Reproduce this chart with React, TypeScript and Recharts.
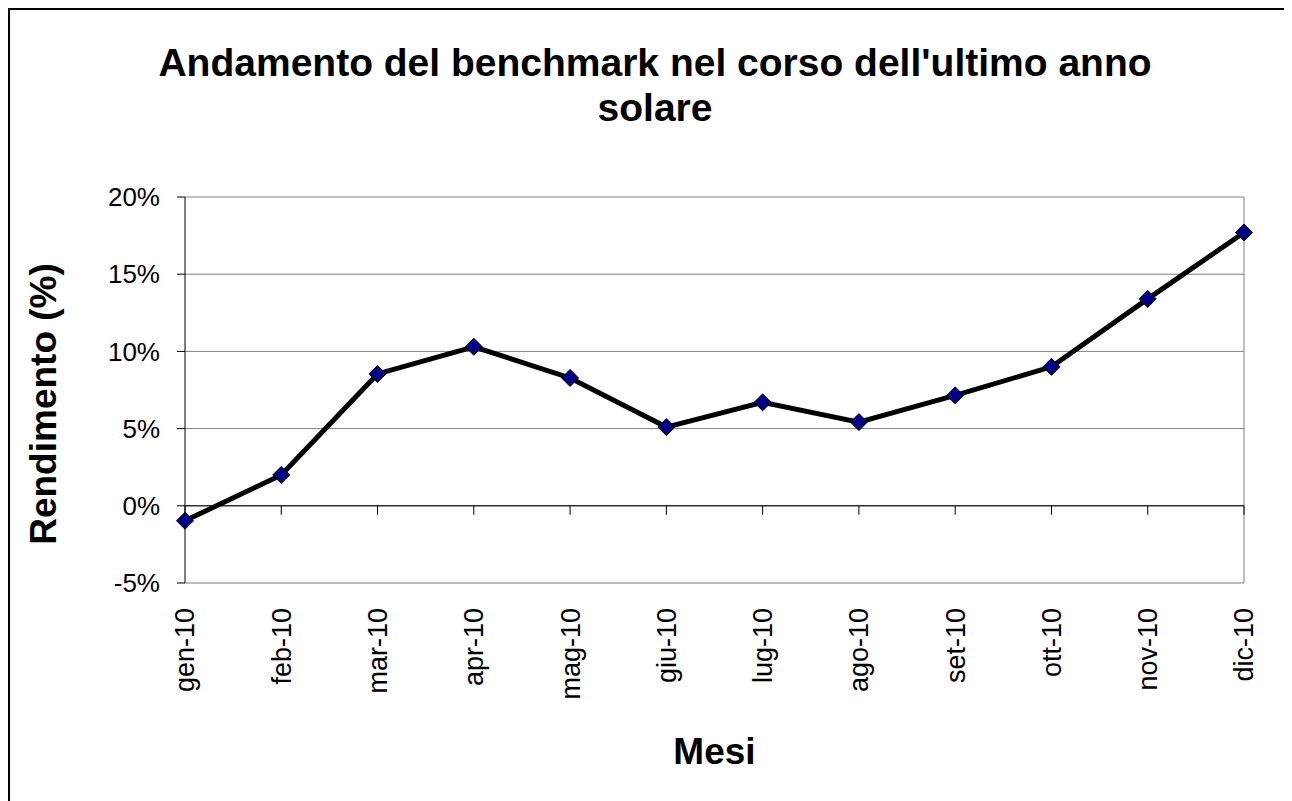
import {CartesianGrid, Label, Line, LineChart, ReferenceLine, XAxis, YAxis} from "recharts";

const months = ['gen-10', 'feb-10', 'mar-10', 'apr-10', 'mag-10', 'giu-10', 'lug-10', 'ago-10', 'set-10', 'ott-10', 'nov-10', 'dic-10'];
const rendimento = [-0.0097, 0.020, 0.0854, 0.103, 0.0828, 0.051, 0.067, 0.0542, 0.0715, 0.090, 0.134, 0.177];
const yTicks = [-0.05, 0, 0.05, 0.1, 0.15, 0.2];
const titleLines = ["Andamento del benchmark nel corso dell'ultimo anno", "solare"];

const data = months.map((m, i) => ({mese: m, rendimento: rendimento[i]}));

const FONT = '"Liberation Sans", Arial, sans-serif';

const Diamond = (props: any) => {
    const {cx, cy} = props;
    if (cx == null || cy == null) return null;
    const r = 8.5;
    return (
        <polygon
            points={`${cx},${cy - r} ${cx + r},${cy} ${cx},${cy + r} ${cx - r},${cy}`}
            fill="#000080"
            stroke="#000"
            strokeWidth={1}
        />
    );
};

const MonthTick = (props: any) => {
    const {x, y, payload} = props;
    return (
        <text x={x} y={y} transform={`rotate(-90, ${x}, ${y})`} textAnchor="end" dy="0.35em"
              fontFamily={FONT} fontSize={27} fill="#000">
            {payload.value}
        </text>
    );
};

// zero line of the category axis, with a tick under every month
const ZeroAxis = (props: any) => {
    const {x1, x2, y1} = props;
    const step = (x2 - x1) / (months.length - 1);
    return (
        <g>
            <line x1={x1} x2={x2} y1={y1} y2={y1} stroke="#000" strokeWidth={1}/>
            {months.map((m, i) => (
                <line key={m} x1={x1 + i * step} x2={x1 + i * step} y1={y1} y2={y1 + 9} stroke="#000" strokeWidth={1}/>
            ))}
        </g>
    );
};

const YTitle = (props: any) => {
    const {viewBox} = props;
    const cx = viewBox.x + 33;
    const cy = viewBox.y + viewBox.height / 2 + 14;
    return (
        <text x={cx} y={cy} transform={`rotate(-90, ${cx}, ${cy})`} textAnchor="middle" dy="0.35em"
              fontFamily={FONT} fontSize={37} fontWeight="bold" fill="#000">
            Rendimento (%)
        </text>
    );
};

const XTitle = (props: any) => {
    const {viewBox} = props;
    return (
        <text x={viewBox.x + viewBox.width / 2} y={754} textAnchor="middle"
              fontFamily={FONT} fontSize={37} fontWeight="bold" fill="#000">
            Mesi
        </text>
    );
};

export default function App() {
    return (
        <div style={{
            position: 'relative', width: 1300, height: 800, overflow: 'hidden',
            borderTop: '2px solid #000', borderLeft: '2px solid #000', background: '#fff'
        }}>
            <style>{'html, body { overflow: hidden; } .recharts-surface, .recharts-wrapper { outline: none !important; }'}</style>
            <div style={{
                position: 'absolute', left: 0, top: 30, width: 1290, textAlign: 'center',
                fontFamily: FONT, fontSize: 39, fontWeight: 'bold', lineHeight: '45px', color: '#000'
            }}>
                {titleLines.map(t => <div key={t}>{t}</div>)}
            </div>
            <LineChart width={1274} height={781} data={data} accessibilityLayer={false}
                       style={{outline: 'none'}}
                       margin={{top: 187, right: 40, left: 0, bottom: 0}}>
                <CartesianGrid vertical={false} stroke="#808080" strokeWidth={1}/>
                <XAxis dataKey="mese" height={208} axisLine={false} tickLine={false} tickSize={0} tickMargin={25}
                       tick={<MonthTick/>} interval={0} padding={{left: 0, right: 0}}>
                    <Label content={<XTitle/>}/>
                </XAxis>
                <YAxis width={175} domain={[-0.05, 0.2]} ticks={yTicks} allowDataOverflow
                       tickFormatter={(v: number) => `${Math.round(v * 100)}%`}
                       axisLine={{stroke: '#000', strokeWidth: 1}} tickLine={{stroke: '#000'}} tickSize={8} tickMargin={17}
                       tick={{fill: '#000', fontSize: 26, fontFamily: FONT}}>
                    <Label content={<YTitle/>}/>
                </YAxis>
                <ReferenceLine x="dic-10" stroke="#808080" strokeWidth={1}/>
                <ReferenceLine y={0} shape={<ZeroAxis/>}/>
                <Line dataKey="rendimento" stroke="#000" strokeWidth={5} dot={<Diamond/>}
                      isAnimationActive={false} type="linear"/>
            </LineChart>
        </div>
    );
}
